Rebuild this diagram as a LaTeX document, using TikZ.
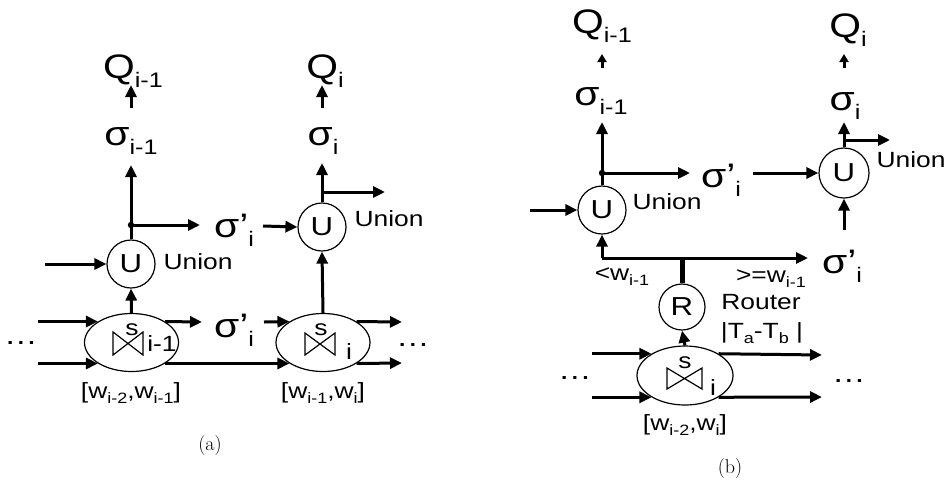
\documentclass[tikz,border=0pt]{standalone}
\usepackage{fontspec}
\setsansfont{Liberation Sans}[FakeStretch=1.2]
\usetikzlibrary{arrows.meta,shapes.geometric,calc}
\newcommand{\bigsub}[2]{{\fontsize{34}{34}\selectfont #1}\raisebox{-9pt}{\fontsize{21}{21}\selectfont #2}}
\newcommand{\smallsub}[2]{#1\raisebox{-5pt}{\fontsize{15}{15}\selectfont #2}}
\newcommand{\jointie}[3]{\draw[line width=1.2pt] ($(#1)+(-#2/2,#3/2)$) -- ++(0,-#3) -- ++(#2,#3) -- ++(0,-#3) -- cycle;}

\begin{document}
\begin{tikzpicture}[x=1pt,y=-1pt,
  arr/.style={line width=3pt,-{Triangle[length=12pt,width=11pt]}},
  sarr/.style={line width=3pt,-{Triangle[length=8pt,width=9pt]}},
  opnode/.style={circle,draw,line width=1.2pt,minimum size=48pt,inner sep=0pt,font=\sffamily\fontsize{26}{26}\selectfont},
  joinop/.style={ellipse,draw,line width=1.2pt,minimum width=94pt,minimum height=58pt,inner sep=0pt},
  txt/.style={inner sep=0pt,font=\sffamily\fontsize{22}{22}\selectfont},
  dotsty/.style={inner sep=0pt,font=\sffamily\fontsize{28}{28}\selectfont}]
  \useasboundingbox (0,0) rectangle (949,491);
  % (a)
  \node[opnode] (ua1) at (131,264) {U};
  \node[opnode] (ua2) at (322,227) {U};
  \node[joinop] (ja1) at (131.5,342.5) {};
  \node[joinop] (ja2) at (323,342.5) {};
  \node[dotsty] (dla) at (21,343) {…};
  \node[dotsty] (dra) at (413,345) {…};
  \node[txt] (qa1) at (133,71) {\bigsub{Q}{i-1}};
  \node[txt] (qa2) at (325,71) {\bigsub{Q}{i}};
  \node[txt] (sa1) at (131,141) {\bigsub{σ}{i-1}};
  \node[txt] (sa2) at (323,141) {\bigsub{σ}{i}};
  \node[txt] (pa1) at (234,230) {\bigsub{σ’}{i}};
  \node[txt] (pa2) at (234,330) {\bigsub{σ’}{i}};
  \node[txt] (una1) at (198,262) {Union};
  \node[txt] (una2) at (389,219) {Union};
  \node[txt] (sja1) at (132,330) {s};
  \jointie{128,343.5}{30}{23}
  \node[txt] (ija1) at (162,344) {i-1};
  \node[txt] (sja2) at (321,330) {s};
  \jointie{320,344}{30}{22}
  \node[txt] (ija2) at (349,352) {i};
  \node[txt] (wa1) at (131,393) {[\smallsub{w}{i-2},\smallsub{w}{i-1}]};
  \node[txt] (wa2) at (323,393) {[\smallsub{w}{i-1},\smallsub{w}{i}]};
  \node[font=\fontsize{20}{20}\selectfont,inner sep=0pt] (capa) at (210,445) {(a)};
  \coordinate (dota) at (131,225);
  \fill (dota) circle (3.2);
  \draw[line width=3pt] (ua1.north) -- (dota);
  \draw[arr] (dota) -- (131,165);
  \draw[arr] (dota) -- (200,225);
  \draw[arr] (131,108) -- (131,85);
  \draw[arr] (45,264) -- (ua1.west);
  \draw[arr] (ja1.north) -- (ua1.south);
  \draw[arr] (ja1.148 -| dla.east) -- (ja1.148);
  \draw[arr] (ja1.212 -| dla.east) -- (ja1.212);
  \draw[arr] (ja1.32) -- (202,322);
  \draw[arr] (ja1.-32) -- (ja2.212);
  \draw[arr] (264,322) -- (ja2.148);
  \draw[arr] (ja2.32) -- (402,322);
  \draw[arr] (ja2.-32) -- (402,363);
  \draw[arr] (ja2.north) -- (ua2.south);
  \draw[arr] (263,226) -- (ua2.west);
  \draw[arr] (ua2.north) -- (322,163);
  \draw[arr] (322,192) -- (385,192);
  \draw[arr] (322,108) -- (322,85);
  % (b)
  \node[opnode] (ub1) at (602,210) {U};
  \node[opnode,minimum size=50pt] (ub2) at (844,173) {U};
  \node[opnode,minimum size=46pt] (rb) at (682,307) {R};
  \node[joinop,minimum width=96pt,minimum height=59pt] (jb) at (685,375.5) {};
  \node[dotsty] (dlb) at (575,378) {…};
  \node[dotsty] (drb) at (849,381) {…};
  \node[txt] (qb1) at (602,26) {\bigsub{Q}{i-1}};
  \node[txt] (qb2) at (848,30) {\bigsub{Q}{i}};
  \node[txt] (sb1) at (601,101) {\bigsub{σ}{i-1}};
  \node[txt] (sb2) at (845,106) {\bigsub{σ}{i}};
  \node[txt] (pb1) at (721,180) {\bigsub{σ’}{i}};
  \node[txt] (pb2) at (842,266) {\bigsub{σ’}{i}};
  \node[txt] (unb1) at (667,202) {Union};
  \node[txt] (unb2) at (911,160) {Union};
  \node[txt] (ltb) at (622,277) {\smallsub{<w}{i-1}};
  \node[txt] (geb) at (771,279) {\smallsub{>=w}{i-1}};
  \node[txt] (rtb) at (761,302) {Router};
  \node[txt] (tab) at (762,333) {|\smallsub{T}{a}-\smallsub{T}{b} |};
  \node[txt] (sjb) at (685,363) {s};
  \jointie{684.5,378.5}{35}{21}
  \node[txt] (ijb) at (713,388) {i};
  \node[txt] (wb) at (685,425) {[\smallsub{w}{i-2},\smallsub{w}{i}]};
  \node[font=\fontsize{20}{20}\selectfont,inner sep=0pt] (capb) at (730,468) {(b)};
  \coordinate (dotb) at (602,173);
  \coordinate (cornb) at (602,258);
  \fill (dotb) circle (3.2);
  \draw[line width=3pt] (ub1.north) -- (dotb);
  \draw[arr] (dotb) -- (602,122);
  \draw[arr] (dotb) -- (690,173);
  \draw[sarr] (602,68) -- (602,54);
  \draw[arr] (530,210) -- (ub1.west);
  \draw[arr] (cornb) -- (ub1.south);
  \draw[arr] (cornb) -- (808,258);
  \draw[line width=5pt] (rb.north) -- (rb.north |- cornb);
  \draw[arr] (jb.north) -- (rb.south);
  \draw[arr] (jb.147 -| dlb.east) -- (jb.147);
  \draw[arr] (jb.213 -| dlb.east) -- (jb.213);
  \draw[arr] (jb.33) -- (822,355);
  \draw[arr] (jb.-33) -- (822,397);
  \draw[arr] (753,173) -- (ub2.west);
  \draw[arr] (844,230) -- (ub2.south);
  \draw[arr] (ub2.north) -- (844,122);
  \draw[arr] (844,140) -- (890,140);
  \draw[sarr] (844,68) -- (844,54);
\end{tikzpicture}
\end{document}
